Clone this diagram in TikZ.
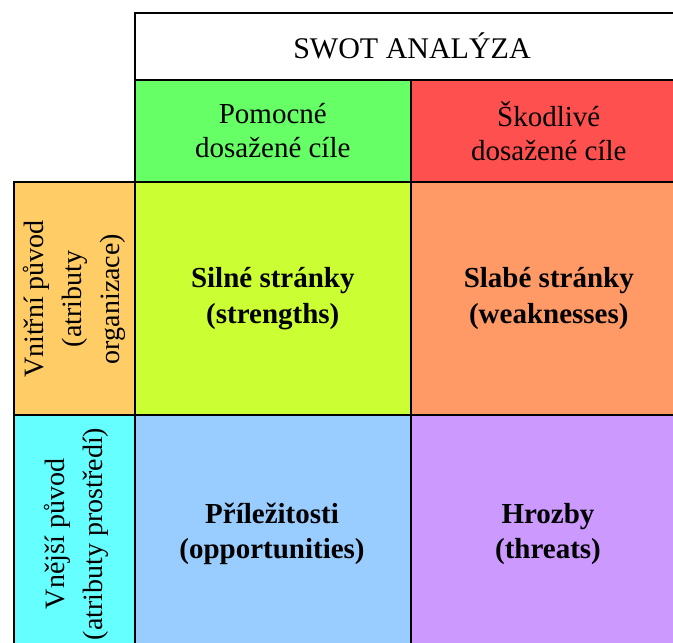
\documentclass[tikz,border=0pt]{standalone}
\usepackage{fontspec}
\setmainfont{Liberation Serif}
\definecolor{cgreen}{HTML}{66FF66}
\definecolor{cred}{HTML}{FF5050}
\definecolor{clorange}{HTML}{FFCC66}
\definecolor{cyg}{HTML}{CCFF33}
\definecolor{corange}{HTML}{FF9966}
\definecolor{ccyan}{HTML}{66FFFF}
\definecolor{cblue}{HTML}{99CCFF}
\definecolor{cpurple}{HTML}{CC99FF}
\tikzset{
  cell/.style={draw=black, line width=1.6pt, inner sep=0pt, align=center,
    font=\fontsize{29}{34}\selectfont},
  bcell/.style={cell, font=\fontsize{29}{36}\selectfont\bfseries},
  vlabel/.style={rotate=90, inner sep=0pt, align=center, font=\fontsize{28}{38}\selectfont},
}
\begin{document}
\begin{tikzpicture}[x=1pt,y=-1pt]
\useasboundingbox (0,0) rectangle (673,643);
\fill[white] (0,0) rectangle (673,643);
\clip (0,0) rectangle (673,643);
% title
\node[cell, fill=white, minimum width=546pt, minimum height=67pt, anchor=north west] (title) at (134,12) {};
\node[font=\fontsize{30}{34}\selectfont] (titletext) at (412,46) {SWOT ANALÝZA};
% headers
\node[cell, fill=cgreen, minimum width=276pt, minimum height=102pt, anchor=north west] (help) at (134,79) {Pomocné\\dosažené cíle};
\node[cell, fill=cred, minimum width=276pt, minimum height=102pt, anchor=north west] (harm) at (410,79) {Škodlivé\\dosažené cíle};
% row 1
\node[cell, fill=clorange, minimum width=121pt, minimum height=233pt, anchor=north west] (int) at (13,181) {};
\node[vlabel] (inttext) at (74,299) {Vnitřní původ\\(atributy\\organizace)};
\node[bcell, fill=cyg, minimum width=276pt, minimum height=233pt, anchor=north west] (s) at (134,181) {Silné stránky\\(strengths)};
\node[bcell, fill=corange, minimum width=276pt, minimum height=233pt, anchor=north west] (w) at (410,181) {Slabé stránky\\(weaknesses)};
% row 2
\node[cell, fill=ccyan, minimum width=121pt, minimum height=240pt, anchor=north west] (ext) at (13,414) {};
\node[vlabel] (exttext) at (76,534) {Vnější původ\\(atributy prostředí)};
\node[bcell, fill=cblue, minimum width=276pt, minimum height=240pt, anchor=north west] (o) at (134,414) {};
\node[font=\fontsize{29}{35}\selectfont\bfseries, align=center] (otext) at (272,534) {Příležitosti\\(opportunities)};
\node[bcell, fill=cpurple, minimum width=276pt, minimum height=240pt, anchor=north west] (t) at (410,414) {};
\node[font=\fontsize{29}{35}\selectfont\bfseries, align=center] (ttext) at (548,534) {Hrozby\\(threats)};
\end{tikzpicture}
\end{document}
